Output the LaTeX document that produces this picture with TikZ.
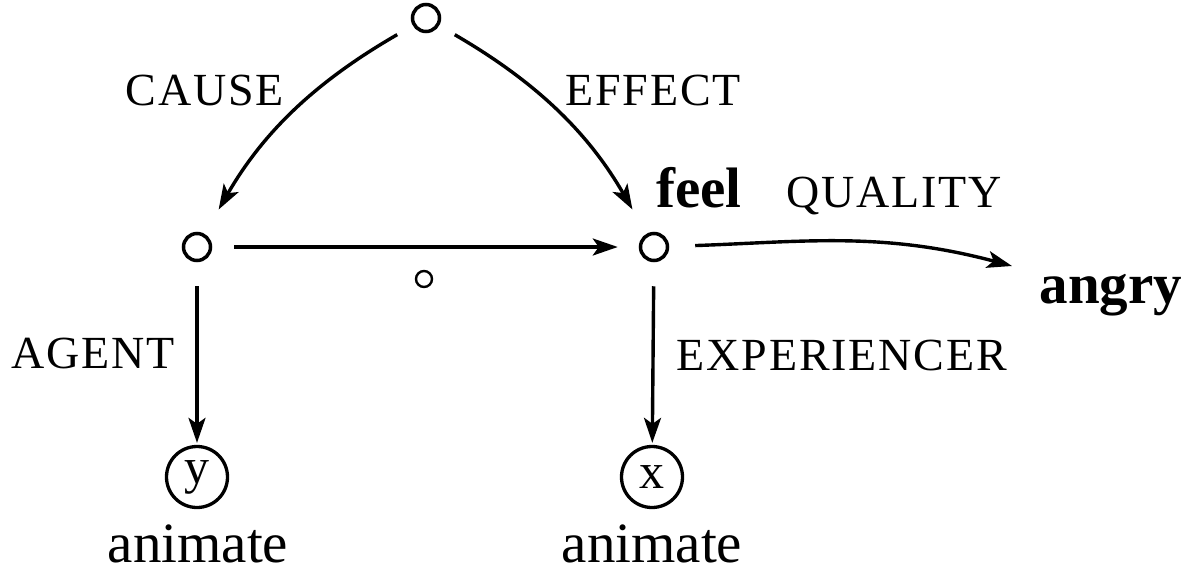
\documentclass[tikz,border=0pt]{standalone}
\usepackage{fontspec}
\setmainfont{Liberation Serif}
\usetikzlibrary{arrows.meta}
\begin{document}
\begin{tikzpicture}[x=1pt,y=1pt,
 dot/.style={circle,draw,line width=3.5pt,minimum size=27pt,inner sep=0pt},
 smalldot/.style={circle,draw,line width=2.4pt,minimum size=16pt,inner sep=0pt},
 var/.style={circle,draw,line width=3.3pt,minimum size=61pt,inner sep=0pt,font=\fontsize{50}{50}\selectfont},
 lab/.style={anchor=base,inner sep=0pt,font=\fontsize{46}{46}\selectfont\addfontfeature{LetterSpace=4}},
 word/.style={anchor=base,inner sep=0pt,font=\fontsize{57}{57}\selectfont},
 arr/.style={line width=3.4pt,-{Stealth[length=25pt,width=17pt,inset=6pt]}},
]
\useasboundingbox (0,0) rectangle (1186,-574);
% nodes
\node[dot] (t) at (426,-18) {};
\node[dot] (l) at (197,-247) {};
\node[dot] (f) at (654,-247) {};
\node[smalldot] (s) at (424,-279) {};
\node[var] (y) at (197,-477) {y};
\node[var] (x) at (652,-477) {x};
\node[word] (an1) at (198,-562) {animate};
\node[word] (an2) at (652,-562) {animate};
\node[word,font=\fontsize{57}{57}\selectfont\bfseries] (feel) at (699,-207) {feel};
\node[word,font=\fontsize{57}{57}\selectfont\bfseries] (angry) at (1111,-303) {angry};
\coordinate (qend) at (1012,-266);
% labels
\node[lab] (cause) at (205,-105) {CAUSE};
\node[lab] (effect) at (653,-105) {EFFECT};
\node[lab] (agent) at (93,-368) {AGENT};
\node[lab] (exp) at (842,-370) {EXPERIENCER};
\node[lab] (qual) at (894,-207) {QUALITY};
% connectors
\draw[arr,shorten <=18pt,shorten >=28pt] (t) to[bend right=15] (l);
\draw[arr,shorten <=18pt,shorten >=28pt] (t) to[bend left=15] (f);
\draw[arr,shorten <=22pt,shorten >=21pt] (l) -- (f);
\draw[arr,shorten <=24pt,shorten >=2pt] (l) -- (y);
\draw[arr,shorten <=24pt,shorten >=2pt] (f) -- (x);
\draw[arr,shorten <=26pt] (f) to[out=2,in=165] (qend);
\end{tikzpicture}
\end{document}
